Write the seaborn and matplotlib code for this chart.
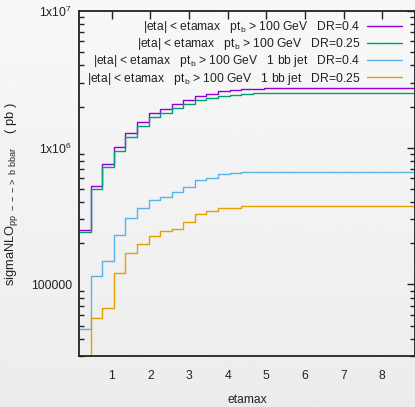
import numpy as np
import pandas as pd
import matplotlib
matplotlib.use("Agg")
import matplotlib.pyplot as plt
import seaborn as sns

# pseudorapidity cut values (bin centres, step 0.3)
etamax = [round(0.15 + 0.3 * k, 2) for k in range(30)]

# cumulative NLO cross sections in pb
sigma_dr04 = [2.50e5, 5.22e5, 7.66e5, 1.005e6, 1.278e6, 1.536e6, 1.784e6, 1.927e6,
              2.094e6, 2.239e6, 2.382e6, 2.491e6, 2.588e6, 2.645e6, 2.676e6, 2.707e6,
              2.721e6, 2.721e6, 2.721e6, 2.721e6, 2.721e6, 2.721e6, 2.721e6, 2.721e6,
              2.721e6, 2.721e6, 2.721e6, 2.721e6, 2.721e6, 2.721e6]
sigma_dr025 = [2.43e5, 4.96e5, 7.20e5, 9.47e5, 1.202e6, 1.436e6, 1.677e6, 1.784e6,
               1.959e6, 2.094e6, 2.227e6, 2.314e6, 2.393e6, 2.450e6, 2.475e6, 2.504e6,
               2.516e6, 2.516e6, 2.516e6, 2.516e6, 2.516e6, 2.516e6, 2.516e6, 2.516e6,
               2.516e6, 2.516e6, 2.516e6, 2.516e6, 2.516e6, 2.516e6]
sigma_1bb_dr04 = [4.72e4, 1.149e5, 1.485e5, 2.315e5, 3.059e5, 3.632e5, 4.152e5, 4.394e5,
                  4.744e5, 5.19e5, 5.794e5, 6.031e5, 6.448e5, 6.514e5, 6.622e5, 6.667e5,
                  6.70e5, 6.70e5, 6.70e5, 6.70e5, 6.70e5, 6.70e5, 6.70e5, 6.70e5,
                  6.70e5, 6.70e5, 6.70e5, 6.70e5, 6.70e5, 6.70e5]
sigma_1bb_dr025 = [2.5e4, 5.70e4, 6.78e4, 1.216e5, 1.686e5, 1.992e5, 2.254e5, 2.449e5,
                   2.559e5, 2.847e5, 3.269e5, 3.455e5, 3.632e5, 3.656e5, 3.737e5, 3.755e5,
                   3.755e5, 3.755e5, 3.755e5, 3.755e5, 3.755e5, 3.755e5, 3.755e5, 3.755e5,
                   3.755e5, 3.755e5, 3.755e5, 3.755e5, 3.755e5, 3.755e5]

labels = [
    r"|eta| < etamax   pt$\mathregular{_b}$ > 100 GeV   DR=0.4",
    r"|eta| < etamax   pt$\mathregular{_b}$ > 100 GeV   DR=0.25",
    r"|eta| < etamax   pt$\mathregular{_b}$ > 100 GeV   1 bb jet   DR=0.4",
    r"|eta| < etamax   pt$\mathregular{_b}$ > 100 GeV   1 bb jet   DR=0.25",
]
colors = ["#9400D3", "#009E73", "#56B4E9", "#E69F00"]
series = [sigma_dr04, sigma_dr025, sigma_1bb_dr04, sigma_1bb_dr025]

ytick_vals = [1e5, 1e6, 1e7]
ytick_labels = ["100000", r"1x10$\mathregular{^6}$", r"1x10$\mathregular{^7}$"]
xtick_vals = [1, 2, 3, 4, 5, 6, 7, 8]

sns.set_theme(style="white")
plt.rcParams["font.family"] = ["Liberation Sans", "DejaVu Sans"]
plt.rcParams["mathtext.fontset"] = "custom"
plt.rcParams["mathtext.rm"] = "Liberation Sans"

W, H = 415, 407
fig = plt.figure(figsize=(W / 100, H / 100), dpi=100)

# soft vertical background shading
bg = fig.add_axes([0, 0, 1, 1], zorder=-10)
grad = np.linspace(0.972, 0.925, 256).reshape(-1, 1)
bg.imshow(grad, cmap="gray", vmin=0, vmax=1, aspect="auto", extent=[0, 1, 0, 1])
bg.set_axis_off()

left, right, top, bottom = 79, 415, 11, 356
ax = fig.add_axes([left / W, 1 - bottom / H, (right - left) / W, (bottom - top) / H])
ax.set_facecolor("none")

fs = 8.7
for vals, col, lab in zip(series, colors, labels):
    df = pd.DataFrame({"etamax": etamax, "sigma": vals})
    sns.lineplot(data=df, x="etamax", y="sigma", color=col, lw=1.0,
                 drawstyle="steps-post", label=lab, ax=ax)

ax.set_yscale("log")
ax.set_xlim(0.15, 8.85)
ax.set_ylim(3e4, 1e7)

ax.set_xticks(xtick_vals)
ax.set_xticklabels([str(v) for v in xtick_vals])
ax.set_yticks(ytick_vals)
ax.set_yticklabels(ytick_labels)
ax.yaxis.set_minor_locator(matplotlib.ticker.LogLocator(base=10, subs=np.arange(2, 10)))
ax.yaxis.set_minor_formatter(matplotlib.ticker.NullFormatter())

ax.tick_params(axis="both", which="major", direction="in", length=6, width=1.0,
               color="#222222", top=True, right=True, labelsize=fs, labelcolor="#222222")
ax.tick_params(axis="y", which="minor", direction="in", length=3.5, width=1.0,
               color="#222222", left=True, right=True)
ax.tick_params(axis="x", which="major", pad=10)
ax.tick_params(axis="y", which="major", pad=5)

for s in ax.spines.values():
    s.set_visible(True)
    s.set_color("#222222")
    s.set_linewidth(1.3)

ax.set_xlabel("etamax", fontsize=fs, color="#222222", labelpad=9)
ax.set_ylabel(r"sigmaNLO$\mathregular{_{pp\ --->\ b\ bbar}}$    ( pb )",
              fontsize=9.3, color="#222222")
ax.yaxis.set_label_coords(-0.175, 0.47)

leg = ax.legend(loc="upper right", bbox_to_anchor=(402 / W, 1 - 19 / H),
                bbox_transform=fig.transFigure, frameon=False, markerfirst=False,
                fontsize=fs, handlelength=2.9, handletextpad=0.55,
                labelspacing=0.1, borderaxespad=0, borderpad=0)
for t in leg.get_texts():
    t.set_color("#222222")

fig.savefig("out.png", dpi=100, facecolor=fig.get_facecolor())
